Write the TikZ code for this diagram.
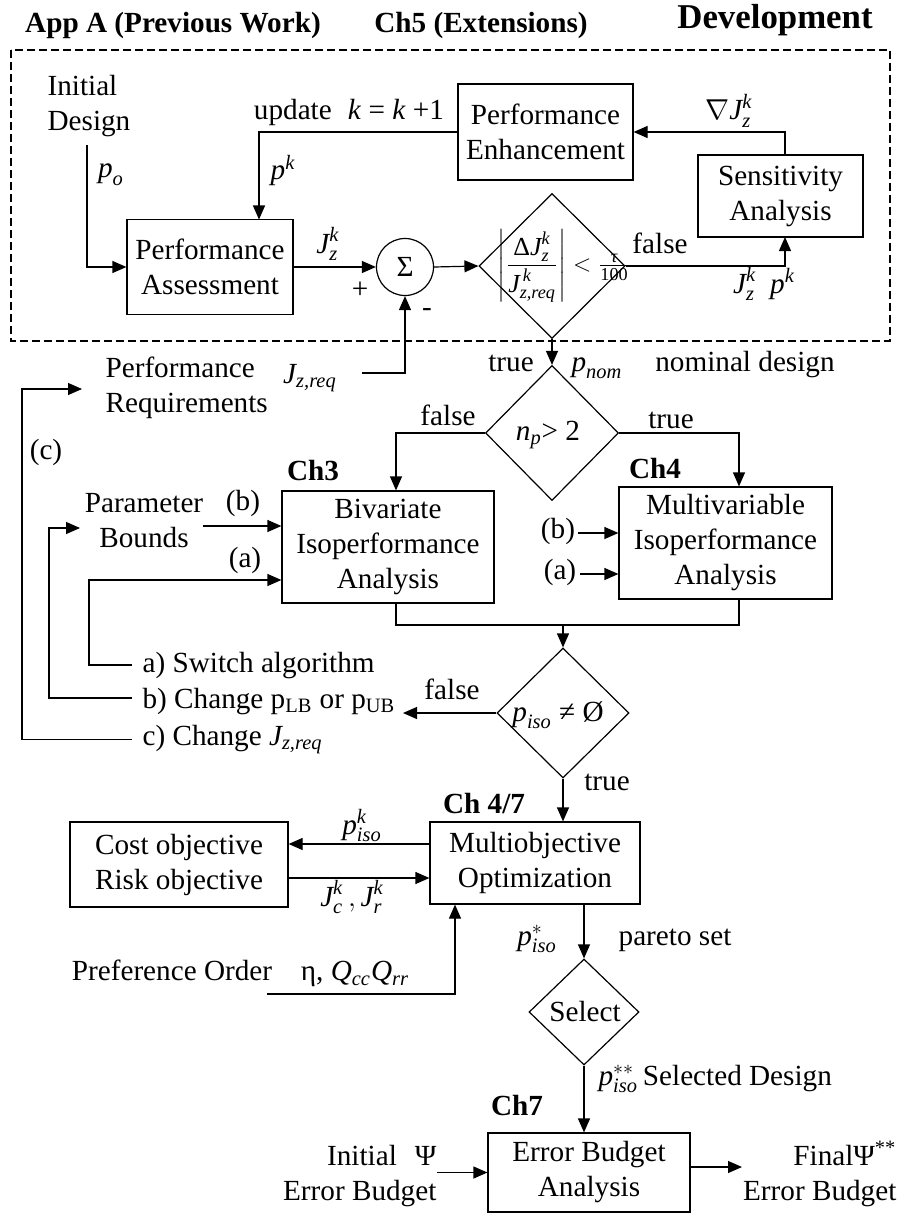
\documentclass[tikz,border=0pt]{standalone}
\usepackage{amsmath}
\usepackage{fontspec}
\setmainfont{Liberation Serif}
\usetikzlibrary{arrows.meta,shapes.geometric,calc}
\newcommand\mi[1]{\textit{#1}}
\begin{document}
\begin{tikzpicture}[x=0.5pt,y=-0.5pt,line width=0.6pt,
  every node/.style={font=\fontsize{14.6pt}{17.5pt}\selectfont,inner sep=0pt},
  box/.style={draw,align=center},
  dia/.style={draw,diamond,inner sep=0pt},
  arr/.style={-{Triangle[length=7pt,width=6pt]}},
  ttl/.style={font=\fontsize{14.6pt}{17.5pt}\selectfont\bfseries}]
\useasboundingbox (0,0) rectangle (901,1214);

% headings
\node[ttl,anchor=base] at (173,33) {App A (Previous Work)};
\node[ttl,anchor=base] at (481,33) {Ch5 (Extensions)};
\node[ttl,font=\fontsize{17.4pt}{20pt}\selectfont\bfseries,anchor=base] at (775,29) {Development};

% development loop frame
\draw[dash pattern=on 4pt off 2pt] (11,50) rectangle (890,341);

% ---------- development loop ----------
\node[anchor=west,align=left] (idn) at (47,106.5) {Initial\\Design};
\coordinate (idbot) at (87,145);
\node[box,minimum width=83pt,minimum height=47.5pt] (pa) at (210,267) {Performance\\Assessment};
\draw[arr] (idbot) |- (pa.west);
\node[anchor=base] at (111,178) {$\mi{p}_{\mi{o}}$};

\node[box,minimum width=87.5pt,minimum height=48pt] (pe) at (545.5,132) {Performance\\Enhancement};
\coordinate (pain) at (259,219.5);
\draw[arr] (pe.west) -| (pain);
\node[anchor=base] at (349,120) {update\hspace{8pt}\mi{k} = \mi{k} +1};
\node[anchor=base] at (283,180) {$\mi{p}^{\mi{k}}$};

\node[draw,circle,minimum size=28.5pt] (sig) at (405,267) {Σ};
\draw[arr] (pa.east) -- (sig.west);
\node[anchor=base] at (328,253) {$\mi{J}^{\mi k}_{\mi z}$};
\node at (360,290) {+};
\node at (427,313) {-};

\node[dia,minimum width=73pt,minimum height=72.5pt] (d1) at (552,266) {};
\node[font=\fontsize{13pt}{15pt}\selectfont] at (564,266) {$\displaystyle\left|\frac{\text{Δ}\mi{J}^{\mi k}_{\mi z}}{\mi{J}^{\,\mi k}_{\mi{z,req}}}\right|<\textstyle\frac{\mi{τ}}{\text{100}}$};
\draw[arr] (sig.east) -- (d1.west);

\node[box,minimum width=82.5pt,minimum height=41pt] (sa) at (780.5,196) {Sensitivity\\Analysis};
\coordinate (sain) at (785,237);
\coordinate (saout) at (785,155);
\draw[arr] (d1.east) -| (sain);
\draw[arr] (saout) |- (pe.east);
\node[anchor=base] at (660,253) {false};
\node[anchor=base] at (764,293) {$\mi{J}^{\mi k}_{\mi z}$\hspace{7pt}$\mi{p}^{\mi k}$};
\node[anchor=base] at (729,120) {$\nabla\mi{J}^{\mi k}_{\mi z}$};

% ---------- isoperformance ----------
\node[dia,minimum width=66.5pt,minimum height=67.5pt] (d2) at (552,433) {};
\node at (548,435) {$\mi{n}_{\mi p}$> 2};
\draw[arr] (d1.south) -- (d2.north);
\node[anchor=base] at (511,371) {true};
\node[anchor=base] at (597,371) {$\mi{p}_{\mi{nom}}$};
\node[anchor=base] at (745,371) {nominal design};

\node[anchor=west,align=left] (prq) at (105,388) {Performance\\Requirements};
\node[anchor=base] at (310,383) {$\mi{J}_{\mi{z,req}}$};
\coordinate (preq) at (362,373);
\draw[arr] (preq) -| (sig.south);

\node[box,minimum width=106pt,minimum height=56pt] (bi) at (388,547) {Bivariate\\Isoperformance\\Analysis};
\node[box,minimum width=106.5pt,minimum height=56pt] (mv) at (725.5,543) {Multivariable\\Isoperformance\\Analysis};
\node[ttl,anchor=base] at (313,480) {Ch3};
\node[ttl,anchor=base] at (655,478) {Ch4};
\coordinate (biin) at (396,519);
\coordinate (mvin) at (739,515);
\draw[arr] (d2.west) -| (biin |- bi.north);
\draw[arr] (d2.east) -| (mvin |- mv.north);
\node[anchor=base] at (448,425) {false};
\node[anchor=base] at (671,428) {true};

\node[align=center] (pb) at (144,521) {Parameter\\Bounds};
\coordinate (pbout) at (203,526);
\draw[arr] (pbout) -- (pbout -| bi.west);
\node[anchor=base] at (243,510) {(b)};
\node[anchor=base] at (245,567) {(a)};

\node[anchor=base west] (sw) at (142,672) {a) Switch algorithm};
\node[anchor=base west] (chb) at (142,708) {b) Change p\textsubscript{LB} or p\textsubscript{UB}};
\node[anchor=base west] (chc) at (142,745) {c) Change $\mi{J}_{\mi{z,req}}$};
\coordinate (aK) at (89,580);
\coordinate (bK) at (49,528);
\coordinate (bT) at (80,528);
\coordinate (cK) at (22,389);
\coordinate (cT) at (82,389);
\draw[arr] ($(sw.west)+(-10,0)$) -| (aK) -- (aK -| bi.west);
\draw[arr] ($(chb.west)+(-10,-3)$) -| (bK) -- (bT);
\draw[arr] ($(chc.west)+(-10,0)$) -| (cK) -- (cT);
\node at (46,452) {(c)};

\coordinate (mvb) at (578,533);
\coordinate (mva) at (580,574);
\draw[arr] (mvb) -- (mvb -| mv.west);
\draw[arr] (mva) -- (mva -| mv.west);
\node at (558,531) {(b)};
\node at (560,572) {(a)};

\coordinate (mj) at (563,625);
\draw (biin |- bi.south) -- (biin |- mj) -- (mvin |- mj) -- (mvin |- mv.south);
\node[dia,minimum width=66pt,minimum height=65pt] (d3) at (563,713) {};
\node at (558,715) {$\mi{p}_{\mi{iso}}$ ≠ Ø};
\draw[arr] (mj) -- (d3.north);
\coordinate (fT) at (403,713);
\draw[arr] (d3.west) -- (fT);
\node[anchor=base] at (452,699) {false};

% ---------- multiobjective optimization ----------
\node[box,minimum width=105pt,minimum height=41pt] (mo) at (535,863) {Multiobjective\\Optimization};
\draw[arr] (d3.south) -- (d3.south |- mo.north);
\node[anchor=base] at (607,790) {true};
\node[ttl,anchor=base] at (484,813) {Ch 4/7};

\node[box,minimum width=109pt,minimum height=42.5pt] (co) at (179,864.5) {Cost objective\\Risk objective};
\coordinate (y1) at (0,844);
\coordinate (y2) at (0,878);
\draw[arr] (mo.west |- y1) -- (co.east |- y1);
\draw[arr] (co.east |- y2) -- (mo.west |- y2);
\node[anchor=base] at (362,834) {$\mi{p}^{\mi k}_{\mi{iso}}$};
\node[anchor=base] at (352,906) {$\mi{J}^{\mi k}_{\mi c}\,,\mi{J}^{\mi k}_{\mi r}$};

\node[anchor=base] at (172,980) {Preference Order};
\node[anchor=base] at (355,980) {η, $\mi{Q}_{\mi{cc}}\mi{Q}_{\mi{rr}}$};
\coordinate (pfs) at (267,994);
\coordinate (pfc) at (455,994);
\draw[arr] (pfs) -- (pfc) -- (pfc |- mo.south);

\node[dia,minimum width=55pt,minimum height=53pt] (sel) at (584,1012) {};
\node at (585,1012) {Select};
\draw[arr] (sel.north |- mo.south) -- (sel.north);
\node[anchor=base] at (537,945) {$\mi{p}^{*}_{\mi{iso}}$};
\node[anchor=base] at (675,945) {pareto set};

% ---------- error budget ----------
\node[box,minimum width=101pt,minimum height=39.5pt] (eb) at (589,1172.5) {Error Budget\\Analysis};
\draw[arr] (sel.south) -- (sel.south |- eb.north);
\node[ttl,anchor=base] at (517,1115) {Ch7};
\node[anchor=base west] at (598,1085) {$\mi{p}^{**}_{\mi{iso}}$\,Selected Design};

\node[anchor=east,align=right] (ieb) at (437,1176) {Initial\hspace{9pt}Ψ\\Error Budget};
\draw[arr] (ieb.east |- eb.west) -- (eb.west);
\node[anchor=east,align=right] (feb) at (897,1174) {FinalΨ\textsuperscript{**}\\Error Budget};
\coordinate (ebo) at (742,1167);
\draw[arr] (eb.east |- ebo) -- (ebo);
\end{tikzpicture}
\end{document}
